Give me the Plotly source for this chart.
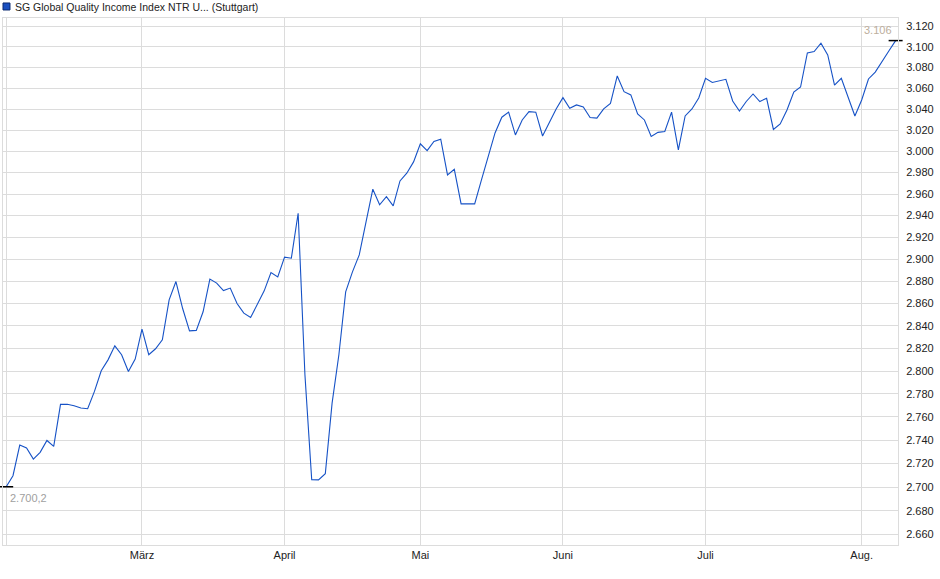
import numpy as np
import pandas as pd
import plotly.graph_objects as go

# trading days at Boerse Stuttgart, Feb 3 - Aug 8 2025
holidays = ["2025-04-18", "2025-04-21", "2025-05-01"]
dates = [d for d in pd.bdate_range("2025-02-03", "2025-08-08") if d.strftime("%Y-%m-%d") not in holidays]

values = [
    2700.2, 2709.6, 2735.8, 2733.2, 2723.8, 2729.5, 2739.7, 2734.6, 2770.9, 2771.0,
    2769.7, 2767.7, 2767.1, 2782.2, 2800.3, 2809.9, 2822.3, 2814.4, 2799.7, 2810.6,
    2837.2, 2814.4, 2819.7, 2827.6, 2863.3, 2879.8, 2855.3, 2835.6, 2836.0, 2852.6,
    2882.0, 2878.4, 2871.7, 2873.9, 2860.0, 2851.4, 2847.5, 2859.7, 2871.4, 2888.0,
    2884.0, 2901.9, 2901.0, 2942.2, 2796.8, 2706.2, 2706.0, 2711.3, 2772.0, 2814.4,
    2870.5, 2888.6, 2904.0, 2934.2, 2964.5, 2950.0, 2957.6, 2949.0, 2972.2, 2979.4,
    2990.0, 3007.0, 3000.6, 3009.2, 3011.3, 2977.8, 2983.0, 2950.9, 2950.9, 2950.9,
    2973.1, 2994.7, 3017.3, 3032.2, 3037.0, 3015.4, 3029.6, 3037.5, 3037.0, 3014.4,
    3027.7, 3040.1, 3050.9, 3040.7, 3043.9, 3042.0, 3032.0, 3031.3, 3040.1, 3045.4,
    3071.7, 3056.6, 3053.5, 3035.3, 3029.6, 3013.9, 3017.8, 3018.6, 3037.0, 3001.3,
    3033.4, 3040.1, 3050.6, 3069.5, 3065.4, 3066.9, 3068.5, 3047.7, 3038.0, 3047.2,
    3054.4, 3047.2, 3050.3, 3020.6, 3025.8, 3039.1, 3056.3, 3061.1, 3094.0, 3095.4,
    3103.4, 3092.0, 3063.0, 3069.5, 3051.6, 3033.4, 3048.6, 3068.8, 3075.5, 3085.2,
    3095.9, 3106.0,
]

month_names = {2: "", 3: "März", 4: "April", 5: "Mai", 6: "Juni", 7: "Juli", 8: "Aug."}
y_ticks = list(range(2660, 3121, 20))
y_labels = [f"{v / 1000:.3f}" for v in y_ticks]

title = "SG Global Quality Income Index NTR U... (Stuttgart)"
first_label = "2.700,2"
last_label = "3.106"

idx = np.arange(len(dates))
month_pos, month_txt = [], []
for i, d in enumerate(dates):
    if i == 0 or d.month != dates[i - 1].month:
        month_pos.append(i)
        month_txt.append(month_names[d.month])

fig = go.Figure()
fig.add_trace(go.Scatter(
    x=idx, y=values, mode="lines",
    line=dict(color="#1652c6", width=1.1),
    hoverinfo="skip", showlegend=False,
))
fig.add_trace(go.Scatter(
    x=[idx[0], idx[-1]], y=[values[0], values[-1]], mode="markers",
    marker=dict(symbol="line-ew", size=10, line=dict(color="black", width=1.5)),
    hoverinfo="skip", showlegend=False, cliponaxis=False,
))

grid = "#dcdcdc"
fig.update_layout(
    width=940, height=579,
    margin=dict(l=3, r=42, t=18, b=34),
    paper_bgcolor="white", plot_bgcolor="white",
    font=dict(family="Liberation Sans, Arial, sans-serif", size=11, color="#222"),
    xaxis=dict(
        range=[-0.47, 131.35], tickvals=month_pos, ticktext=month_txt,
        showgrid=True, gridcolor=grid, gridwidth=1, zeroline=False,
        showline=True, linecolor=grid, mirror=True, ticks="",
        tickfont=dict(size=11, color="#222"),
    ),
    yaxis=dict(
        type="log", range=[np.log10(2651.3), np.log10(3128.1)],
        side="right", tickvals=y_ticks, ticktext=y_labels,
        showgrid=True, gridcolor=grid, gridwidth=1, zeroline=False,
        showline=True, linecolor=grid, mirror=True, ticks="",
        ticklabelstandoff=5, tickfont=dict(size=11, color="#222"),
    ),
    shapes=[dict(
        type="rect", xref="paper", yref="paper",
        x0=0.0, x1=0.0078, y0=1.0152, y1=1.0285,
        fillcolor="#1a4fc0", line=dict(color="#0c2a70", width=1),
    )],
    annotations=[
        dict(text=title, xref="paper", yref="paper", x=0.0112, y=1.0215,
             xanchor="left", yanchor="middle", showarrow=False,
             font=dict(size=10.5, color="#222")),
        dict(text=first_label, x=idx[0], y=np.log10(values[0]), xanchor="left", yanchor="top",
             xshift=2, yshift=-3, showarrow=False, font=dict(size=11, color="#a0a0a0")),
        dict(text=last_label, x=idx[-1], y=np.log10(values[-1]), xanchor="right", yanchor="bottom",
             xshift=-2, yshift=3, showarrow=False, font=dict(size=11, color="#bcae9c")),
    ],
)

fig.write_html("out.html", config={"displayModeBar": False},
               post_script="document.body.style.margin='0';")
